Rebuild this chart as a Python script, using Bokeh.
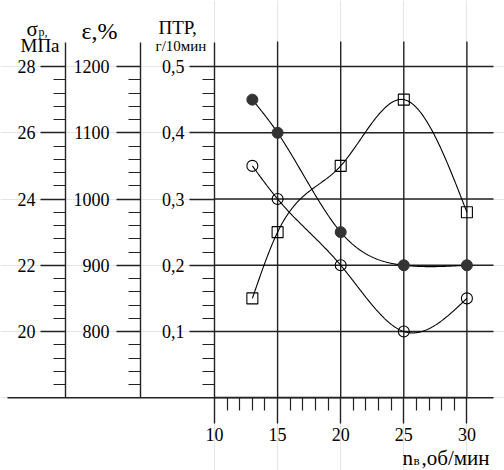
import numpy as np
from bokeh.plotting import figure
from bokeh.models import Range1d, LinearAxis, FixedTicker, Label
from bokeh.embed import file_html
from bokeh.resources import INLINE

# ---------------- data ----------------
n_rpm = [13, 15, 20, 25, 30]
ptr_filled = [0.45, 0.40, 0.25, 0.20, 0.20]
ptr_open = [0.35, 0.30, 0.20, 0.10, 0.15]
ptr_square = [0.15, 0.25, 0.35, 0.45, 0.28]

x_ticks = [10, 15, 20, 25, 30]
x_tick_labels = ["10", "15", "20", "25", "30"]
ptr_ticks = [0.1, 0.2, 0.3, 0.4, 0.5]
ptr_tick_labels = ["0,1", "0,2", "0,3", "0,4", "0,5"]
sigma_ticks = [20, 22, 24, 26, 28]
sigma_tick_labels = ["20", "22", "24", "26", "28"]
eps_ticks = [800, 900, 1000, 1100, 1200]
eps_tick_labels = ["800", "900", "1000", "1100", "1200"]

# ---------------- layout helpers (page pixels -> data) ----------------
W, H = 504, 470
FONT = "Liberation Serif"
INK = "#222222"


def px(xp):
    return 10 + (xp - 214) / 12.62


def py(yp):
    return 0.1 + (331 - yp) / 662.5


def sig(v):
    return 20 + (v - 0.1) * 20


def eps(v):
    return 800 + (v - 0.1) * 1000


def nat_spline(x, y, num=300):
    x = np.asarray(x, float)
    y = np.asarray(y, float)
    n = len(x)
    h = np.diff(x)
    A = np.zeros((n, n))
    b = np.zeros(n)
    A[0, 0] = 1
    A[-1, -1] = 1
    for i in range(1, n - 1):
        A[i, i - 1] = h[i - 1]
        A[i, i] = 2 * (h[i - 1] + h[i])
        A[i, i + 1] = h[i]
        b[i] = 3 * ((y[i + 1] - y[i]) / h[i] - (y[i] - y[i - 1]) / h[i - 1])
    c = np.linalg.solve(A, b)
    xs = np.linspace(x[0], x[-1], num)
    idx = np.clip(np.searchsorted(x, xs, side="right") - 1, 0, n - 2)
    dx = xs - x[idx]
    bc = (y[1:] - y[:-1]) / h - h * (2 * c[:-1] + c[1:]) / 3
    d = (c[1:] - c[:-1]) / (3 * h)
    ys = y[idx] + bc[idx] * dx + c[idx] * dx ** 2 + d[idx] * dx ** 3
    return xs, ys


y_lo, y_hi = py(H), py(0)
p = figure(width=W, height=H,
           x_range=Range1d(px(0), px(W)),
           y_range=Range1d(y_lo, y_hi),
           output_backend="svg", toolbar_location=None,
           x_axis_location=None, y_axis_location=None, min_border=0)
p.outline_line_color = None
p.background_fill_color = "white"
p.extra_y_ranges = {
    "sigma": Range1d(sig(y_lo), sig(y_hi)),
    "eps": Range1d(eps(y_lo), eps(y_hi)),
}

top = py(42)


def style_axis(ax, tick_out, minor_out, standoff):
    ax.axis_line_color = INK
    ax.axis_line_width = 1.4
    ax.major_tick_line_color = INK
    ax.major_tick_line_width = 1.4
    ax.minor_tick_line_color = INK
    ax.minor_tick_line_width = 1.2
    ax.major_tick_in = 0
    ax.major_tick_out = tick_out
    ax.minor_tick_in = 0
    ax.minor_tick_out = minor_out
    ax.major_label_standoff = standoff
    ax.major_label_text_font = FONT
    ax.major_label_text_font_size = "18px"
    ax.major_label_text_color = "black"


# sigma axis
sig_minor = [v for v in np.round(np.arange(18.4, 28.0, 0.4), 2) if v not in sigma_ticks]
ax_s = LinearAxis(y_range_name="sigma", fixed_location=px(65),
                  bounds=(18, sig(top)),
                  ticker=FixedTicker(ticks=sigma_ticks, minor_ticks=sig_minor),
                  major_label_overrides=dict(zip(sigma_ticks, sigma_tick_labels)))
style_axis(ax_s, 25, 12, 5)
p.add_layout(ax_s, "left")

# epsilon axis
eps_minor = [v for v in np.round(np.arange(720, 1200, 20), 1) if v not in eps_ticks]
ax_e = LinearAxis(y_range_name="eps", fixed_location=px(140),
                  bounds=(700, eps(top)),
                  ticker=FixedTicker(ticks=eps_ticks, minor_ticks=eps_minor),
                  major_label_overrides=dict(zip(eps_ticks, eps_tick_labels)))
style_axis(ax_e, 24, 12, 7)
p.add_layout(ax_e, "left")

# PTR axis
ptr_minor = [v for v in np.round(np.arange(0.02, 0.5, 0.02), 2) if v not in ptr_ticks]
ax_p = LinearAxis(fixed_location=10, bounds=(0, top),
                  ticker=FixedTicker(ticks=ptr_ticks, minor_ticks=ptr_minor),
                  major_label_overrides=dict(zip(ptr_ticks, ptr_tick_labels)))
style_axis(ax_p, 25, 12, 5)
p.add_layout(ax_p, "left")

# x axis
x_minor = [v for v in range(11, 30) if v not in x_ticks]
ax_x = LinearAxis(fixed_location=0, bounds=(10, 30),
                  ticker=FixedTicker(ticks=x_ticks, minor_ticks=x_minor),
                  major_label_overrides=dict(zip(x_ticks, x_tick_labels)))
style_axis(ax_x, 26, 13, 4)
p.add_layout(ax_x, "below")

# grid
right = px(493)
p.segment(x0=[10] * len(ptr_ticks), y0=ptr_ticks, x1=[right] * len(ptr_ticks), y1=ptr_ticks,
          line_color=INK, line_width=1.4)
vx = x_ticks[1:]
p.segment(x0=vx, y0=[0] * len(vx), x1=vx, y1=[py(41)] * len(vx),
          line_color=INK, line_width=1.4)
p.segment(x0=[px(7)], y0=[0], x1=[right], y1=[0], line_color=INK, line_width=1.4)

# curves
for ys in (ptr_filled, ptr_open, ptr_square):
    cx, cy = nat_spline(n_rpm, ys)
    p.line(cx, cy, line_color="black", line_width=1.1)

p.scatter(n_rpm, ptr_filled, marker="circle", size=11, fill_color="#333333", line_color="#333333")
p.scatter(n_rpm, ptr_open, marker="circle", size=11, fill_color=None, line_color="black", line_width=1.1)
p.scatter(n_rpm, ptr_square, marker="square", size=11, fill_color=None, line_color="black", line_width=1.1)


def lab(text, xp, yp, size, align="left"):
    p.add_layout(Label(x=px(xp), y=py(yp), text=text, text_font=FONT,
                       text_font_size=f"{size}px", text_align=align,
                       text_baseline="alphabetic", text_color="black"))


lab("σ", 26, 28, 21)
lab("р,", 38, 31, 12)
lab("МПа", 20, 45, 19)
lab("ε,%", 81, 30, 24)
lab("ПТР,", 158, 27, 19)
lab("г/10мин", 155, 45, 15)
lab("n", 402, 457, 21)
lab("в", 413, 460, 13)
lab(",об/мин", 421, 457, 21)

open("out.html", "w").write(file_html(p, INLINE))
